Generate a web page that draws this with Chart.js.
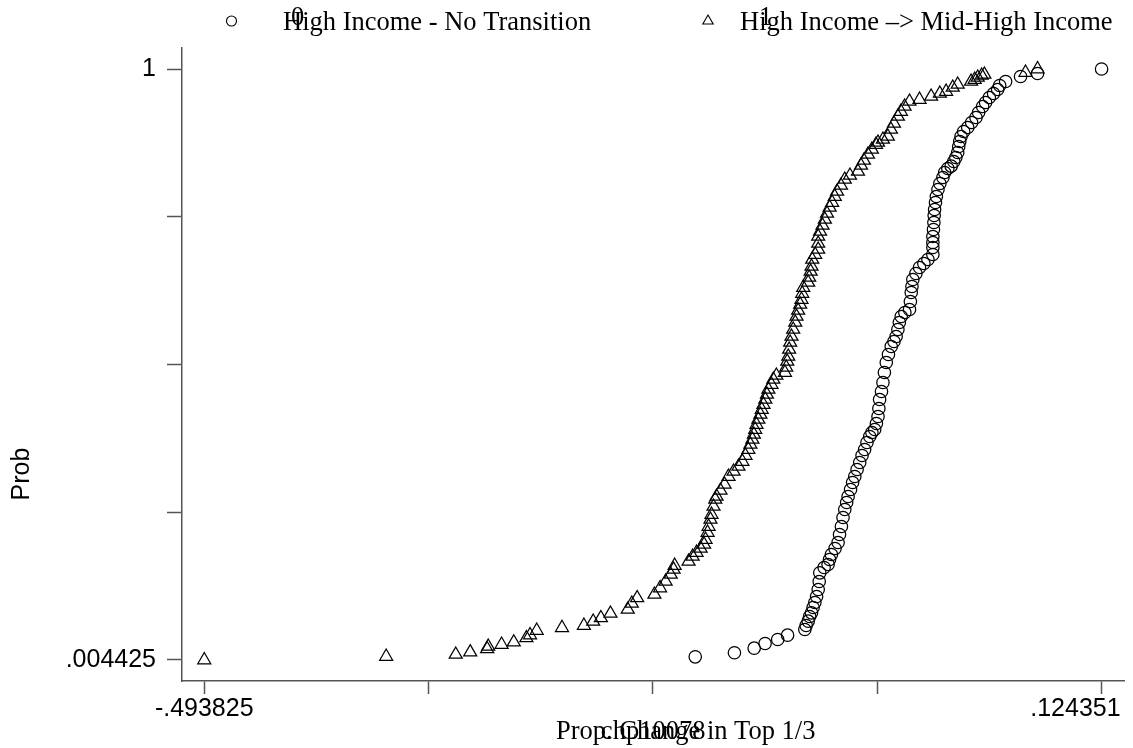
<!DOCTYPE html>
<html>
<head>
<meta charset="utf-8">
<script src="https://cdn.jsdelivr.net/npm/chart.js@4.4.1/dist/chart.umd.min.js"></script>
<style>
html,body{margin:0;padding:0;background:#fff;}
#wrap{width:1133px;height:748px;position:relative;}
</style>
</head>
<body>
<div id="wrap"><canvas id="c" width="1133" height="748"></canvas></div>
<script>
// ---- data ----
const seriesNames = ['High Income - No Transition', 'High Income \u2013> Mid-High Income'];
const seriesCodes = ['0', '1'];
const xTitle = 'Prop. Change in Top 1/3';
const xVarName = 'chp10078';
const yTitle = 'Prob';

const xTickValues = [-0.493825, -0.339281, -0.184737, -0.030193, 0.124351];
const xTickLabels = ['-.493825', '', '', '', '.124351'];
const yTickValues = [0.004425, 0.253319, 0.502213, 0.751106, 1];
const yTickLabels = ['.004425', '', '', '', '1'];

// High Income - No Transition (circles)
const circleX = [-0.1556,-0.1286,-0.1150,-0.1075,-0.0988,-0.0920,-0.0801,-0.0792,-0.0778,-0.0768,
 -0.0755,-0.0744,-0.0732,-0.0720,-0.0709,-0.0702,-0.0698,-0.0668,-0.0641,-0.0631,
 -0.0618,-0.0593,-0.0572,-0.0562,-0.0549,-0.0538,-0.0526,-0.0513,-0.0503,-0.0486,
 -0.0472,-0.0457,-0.0441,-0.0423,-0.0407,-0.0389,-0.0373,-0.0354,-0.0339,-0.0320,
 -0.0308,-0.0297,-0.0291,-0.0286,-0.0273,-0.0263,-0.0253,-0.0240,-0.0225,-0.0206,
 -0.0187,-0.0172,-0.0160,-0.0150,-0.0137,-0.0112,-0.0080,-0.0074,-0.0068,-0.0063,
 -0.0057,-0.0036,-0.0011,0.0019,0.0047,0.0081,0.0081,0.0081,0.0081,0.0085,
 0.0088,0.0090,0.0093,0.0099,0.0105,0.0116,0.0129,0.0150,0.0162,0.0184,
 0.0207,0.0225,0.0239,0.0252,0.0259,0.0266,0.0275,0.0293,0.0321,0.0348,
 0.0378,0.0396,0.0424,0.0444,0.0470,0.0499,0.0527,0.0541,0.0582,0.0685,
 0.0802,0.1243];
const circleY = [0.0098,0.0166,0.0243,0.0322,0.0390,0.0462,0.0558,0.0625,0.0698,0.0777,
 0.0839,0.0929,0.1013,0.1114,0.1232,0.1367,0.1513,0.1603,0.1653,0.1737,
 0.1822,0.1923,0.2024,0.2158,0.2293,0.2445,0.2580,0.2697,0.2799,0.2916,
 0.3034,0.3135,0.3253,0.3371,0.3489,0.3590,0.3708,0.3809,0.3877,0.3927,
 0.4028,0.4146,0.4281,0.4433,0.4567,0.4719,0.4887,0.5056,0.5191,0.5325,
 0.5410,0.5494,0.5612,0.5730,0.5831,0.5898,0.5949,0.6084,0.6235,0.6336,
 0.6454,0.6555,0.6656,0.6724,0.6791,0.6875,0.6993,0.7077,0.7179,0.7296,
 0.7414,0.7532,0.7633,0.7751,0.7852,0.7970,0.8071,0.8172,0.8257,0.8324,
 0.8363,0.8442,0.8509,0.8594,0.8695,0.8779,0.8863,0.8947,0.9015,0.9099,
 0.9183,0.9267,0.9369,0.9436,0.9520,0.9588,0.9655,0.9722,0.9790,0.9874,
 0.9924,1.0000];

// High Income -> Mid-High Income (triangles)
const triangleX = [-0.4938,-0.3685,-0.3206,-0.3106,-0.2989,-0.2982,-0.2890,-0.2806,-0.2719,-0.2694,
 -0.2648,-0.2474,-0.2323,-0.2259,-0.2206,-0.2140,-0.2021,-0.1993,-0.1956,-0.1837,
 -0.1798,-0.1760,-0.1725,-0.1705,-0.1698,-0.1602,-0.1574,-0.1547,-0.1519,-0.1495,
 -0.1485,-0.1471,-0.1464,-0.1451,-0.1444,-0.1430,-0.1418,-0.1409,-0.1382,-0.1354,
 -0.1327,-0.1292,-0.1258,-0.1231,-0.1210,-0.1190,-0.1176,-0.1162,-0.1152,-0.1143,
 -0.1134,-0.1121,-0.1107,-0.1098,-0.1086,-0.1073,-0.1062,-0.1052,-0.1031,-0.1018,
 -0.0997,-0.0938,-0.0929,-0.0922,-0.0915,-0.0909,-0.0902,-0.0893,-0.0881,-0.0867,
 -0.0858,-0.0847,-0.0833,-0.0824,-0.0819,-0.0812,-0.0778,-0.0771,-0.0761,-0.0755,
 -0.0750,-0.0730,-0.0709,-0.0709,-0.0709,-0.0696,-0.0679,-0.0663,-0.0648,-0.0630,
 -0.0613,-0.0595,-0.0579,-0.0552,-0.0526,-0.0490,-0.0435,-0.0414,-0.0394,-0.0366,
 -0.0339,-0.0311,-0.0297,-0.0263,-0.0229,-0.0208,-0.0187,-0.0160,-0.0139,-0.0114,
 -0.0080,-0.0011,0.0069,0.0129,0.0172,0.0218,0.0252,0.0344,0.0369,0.0390,
 0.0417,0.0436,0.0719,0.0802];
const triangleY = [0.0044,0.0103,0.0137,0.0176,0.0230,0.0272,0.0305,0.0344,0.0415,0.0465,
 0.0541,0.0587,0.0625,0.0693,0.0752,0.0828,0.0895,0.0996,0.1089,0.1148,
 0.1257,0.1367,0.1485,0.1569,0.1636,0.1704,0.1788,0.1855,0.1923,0.1990,
 0.2074,0.2192,0.2293,0.2411,0.2495,0.2630,0.2748,0.2799,0.2900,0.3001,
 0.3135,0.3220,0.3304,0.3388,0.3489,0.3590,0.3675,0.3759,0.3843,0.3927,
 0.4011,0.4096,0.4180,0.4264,0.4348,0.4433,0.4517,0.4601,0.4685,0.4770,
 0.4837,0.4887,0.4972,0.5073,0.5157,0.5275,0.5393,0.5494,0.5612,0.5730,
 0.5831,0.5932,0.6033,0.6117,0.6218,0.6319,0.6404,0.6488,0.6589,0.6673,
 0.6791,0.6875,0.6960,0.7061,0.7179,0.7263,0.7364,0.7465,0.7566,0.7667,
 0.7751,0.7852,0.7937,0.8038,0.8139,0.8206,0.8274,0.8375,0.8459,0.8560,
 0.8644,0.8728,0.8762,0.8813,0.8863,0.8981,0.9082,0.9200,0.9284,0.9369,
 0.9453,0.9486,0.9537,0.9588,0.9621,0.9689,0.9739,0.9790,0.9823,0.9857,
 0.9891,0.9908,0.9941,1.0000];

// ---- chart ----
const AXIS = '#555';
const SANS = '"Liberation Sans", Arial, sans-serif';
const SERIF = '"Liberation Serif", "Times New Roman", serif';

const textPlugin = {
  id: 'stataTexts',
  afterDraw(chart) {
    const ctx = chart.ctx;
    const xs = chart.scales.x;
    const ca = chart.chartArea;
    ctx.save();
    ctx.fillStyle = '#000';
    ctx.strokeStyle = '#000';
    // x tick labels (end labels only, last one pulled inside)
    ctx.font = '25px ' + SANS;
    ctx.textBaseline = 'alphabetic';
    ctx.textAlign = 'center';
    ctx.fillText(xTickLabels[0], xs.getPixelForValue(xTickValues[0]), ca.bottom + 35);
    ctx.textAlign = 'right';
    ctx.fillText(xTickLabels[4], xs.getPixelForValue(xTickValues[4]) + 19, ca.bottom + 35);
    // y title
    ctx.save();
    ctx.translate(22, 474);
    ctx.rotate(-Math.PI / 2);
    ctx.textAlign = 'center';
    ctx.textBaseline = 'middle';
    ctx.fillText(yTitle, 0, 0);
    ctx.restore();
    // x titles (overlapping, as in the original)
    ctx.font = '26.5px ' + SERIF;
    ctx.textAlign = 'left';
    ctx.fillText(xTitle, 556, ca.bottom + 58);
    ctx.textAlign = 'center';
    ctx.fillText(xVarName, (ca.left + ca.right) / 2, ca.bottom + 58);
    // legend
    ctx.lineWidth = 1.1;
    ctx.beginPath();
    ctx.arc(231.5, 21, 5, 0, Math.PI * 2);
    ctx.stroke();
    const tx = 708, ty = 21, r = 6;
    ctx.beginPath();
    ctx.moveTo(tx, ty - r);
    ctx.lineTo(tx + r * 0.866, ty + r * 0.5);
    ctx.lineTo(tx - r * 0.866, ty + r * 0.5);
    ctx.closePath();
    ctx.stroke();
    ctx.font = '26.5px ' + SERIF;
    ctx.textAlign = 'left';
    ctx.textBaseline = 'alphabetic';
    ctx.fillText(seriesNames[0], 283, 30);
    ctx.fillText(seriesNames[1], 740, 30);
    ctx.textAlign = 'center';
    ctx.fillText(seriesCodes[0], 297.5, 25);
    ctx.fillText(seriesCodes[1], 765.5, 25);
    ctx.restore();
  }
};

new Chart(document.getElementById('c'), {
  type: 'scatter',
  data: {
    datasets: [
      {
        label: seriesNames[0],
        data: circleX.map((x, i) => ({x: x, y: circleY[i]})),
        pointStyle: 'circle',
        pointRadius: 6.2,
        pointBorderWidth: 1.25,
        pointBorderColor: '#000',
        pointBackgroundColor: 'rgba(0,0,0,0)',
        showLine: false,
        clip: false
      },
      {
        label: seriesNames[1],
        data: triangleX.map((x, i) => ({x: x, y: triangleY[i]})),
        pointStyle: 'triangle',
        pointRadius: 7.5,
        pointBorderWidth: 1.25,
        pointBorderColor: '#000',
        pointBackgroundColor: 'rgba(0,0,0,0)',
        showLine: false,
        clip: false
      }
    ]
  },
  options: {
    responsive: false,
    animation: false,
    devicePixelRatio: 1,
    layout: {padding: {top: 48, right: 6, left: 0, bottom: 0}},
    plugins: {legend: {display: false}, tooltip: {enabled: false}, title: {display: false}},
    events: [],
    scales: {
      x: {
        type: 'linear',
        min: -0.509142,
        max: 0.139928,
        afterBuildTicks: (s) => { s.ticks = xTickValues.map(v => ({value: v})); },
        afterFit: (s) => { s.height = 67; },
        ticks: {display: true, callback: () => '', font: {size: 1}},
        grid: {display: true, drawOnChartArea: false, drawTicks: true, tickLength: 13, tickColor: AXIS, tickWidth: 1.5},
        border: {display: true, color: AXIS, width: 1.5}
      },
      y: {
        type: 'linear',
        min: -0.03096,
        max: 1.03538,
        afterBuildTicks: (s) => { s.ticks = yTickValues.map(v => ({value: v})); },
        afterFit: (s) => { s.width = 182; },
        ticks: {
          color: '#000',
          padding: 11,
          font: {family: SANS, size: 25},
          callback: (v, i) => yTickLabels[i]
        },
        grid: {display: true, drawOnChartArea: false, drawTicks: true, tickLength: 15, tickColor: AXIS, tickWidth: 1.5},
        border: {display: true, color: AXIS, width: 1.5}
      }
    }
  },
  plugins: [textPlugin]
});
</script>
</body>
</html>
